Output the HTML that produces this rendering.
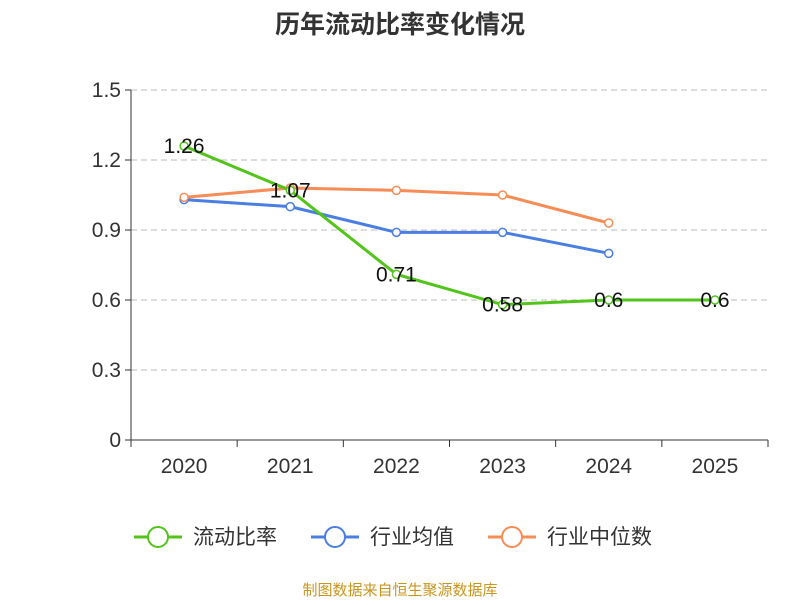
<!DOCTYPE html>
<html><head><meta charset="utf-8"><style>
body{margin:0;background:#fff;font-family:"Liberation Sans","Noto Sans CJK SC",sans-serif}
</style></head><body>
<svg width="800" height="600" xmlns="http://www.w3.org/2000/svg" id="c">
<text x="400" y="33" text-anchor="middle" font-size="25" font-weight="bold" fill="#333" font-family="Liberation Sans,Noto Sans CJK SC,sans-serif">历年流动比率变化情况</text>
<g id="grid"></g><g id="axes"></g><g id="series"></g>
<g font-size="21" fill="#333" font-family="Liberation Sans,Noto Sans CJK SC,sans-serif">
<g><line x1="134" y1="537" x2="182" y2="537" stroke="#52c41a" stroke-width="3"/><circle cx="158" cy="537" r="10" fill="#fff" stroke="#52c41a" stroke-width="2"/><text x="193" y="544">流动比率</text></g>
<g><line x1="311" y1="537" x2="359" y2="537" stroke="#4a7ee0" stroke-width="3"/><circle cx="335" cy="537" r="10" fill="#fff" stroke="#4a7ee0" stroke-width="2"/><text x="370" y="544">行业均值</text></g>
<g><line x1="488" y1="537" x2="536" y2="537" stroke="#f68c56" stroke-width="3"/><circle cx="512" cy="537" r="10" fill="#fff" stroke="#f68c56" stroke-width="2"/><text x="547" y="544">行业中位数</text></g>
</g>
<text x="400" y="595" text-anchor="middle" font-size="15" fill="#c8961e" font-family="Liberation Sans,Noto Sans CJK SC,sans-serif">制图数据来自恒生聚源数据库</text>
</svg>
<script>
const categories=["2020","2021","2022","2023","2024","2025"];
const ratio=[1.26,1.07,0.71,0.58,0.6,0.6];
const avg=[1.03,1.00,0.89,0.89,0.80];
const median=[1.04,1.08,1.07,1.05,0.93];
const yTicks=[0,0.3,0.6,0.9,1.2,1.5];
const NS="http://www.w3.org/2000/svg";
const x0=131,x1=768,y0=440,y1=90,yMax=1.5;
const bw=(x1-x0)/categories.length;
const X=i=>x0+bw*(i+0.5);
const Y=v=>y0-(v/yMax)*(y0-y1);
function mk(p,t,a){const e=document.createElementNS(NS,t);for(const k in a)e.setAttribute(k,a[k]);p.appendChild(e);return e;}
const g=document.getElementById('grid'),ax=document.getElementById('axes'),s=document.getElementById('series');
yTicks.forEach(v=>{
 if(v>0){const l=mk(g,'line',{x1:x0,x2:x1,y1:Y(v),y2:Y(v),stroke:'#bbb','stroke-dasharray':'6,4'});
 
 }
 const tk=mk(ax,'line',{x1:x0-6,x2:x0,y1:Y(v),y2:Y(v),stroke:'#333'});
 
 
 const t=mk(ax,'text',{x:x0-10,y:Y(v)+7,'text-anchor':'end','font-size':21,fill:'#333'});t.textContent=String(v);
 
 
});
const ya=mk(ax,'line',{x1:x0,x2:x0,y1:y1,y2:y0,stroke:'#333'});


const xa=mk(ax,'line',{x1:x0,x2:x1,y1:y0,y2:y0,stroke:'#333'});


for(let i=0;i<=categories.length;i++){const tk=mk(ax,'line',{x1:x0+bw*i,x2:x0+bw*i,y1:y0,y2:y0+7,stroke:'#333'});
 
 }
categories.forEach((c,i)=>{const t=mk(ax,'text',{x:X(i),y:473,'text-anchor':'middle','font-size':21,fill:'#333'});t.textContent=c;
 
 });
function line(data,color,name,labels){
 const pts=data.map((v,i)=>X(i)+','+Y(v)).join(' ');
 const pl=mk(s,'polyline',{points:pts,fill:'none',stroke:color,'stroke-width':3});
 
 
 data.forEach((v,i)=>{const c=mk(s,'circle',{cx:X(i),cy:Y(v),r:4,fill:'#fff',stroke:color,'stroke-width':1.5});
  
  
  if(labels){const t=mk(s,'text',{x:X(i),y:Y(v)+7,'text-anchor':'middle','font-size':21,fill:'#111'});t.textContent=String(v);
   
   }});
}
line(avg,'#4a7ee0','industry-avg',false);
line(median,'#f68c56','industry-median',false);
line(ratio,'#52c41a','current-ratio',true);
</script>
</body></html>
